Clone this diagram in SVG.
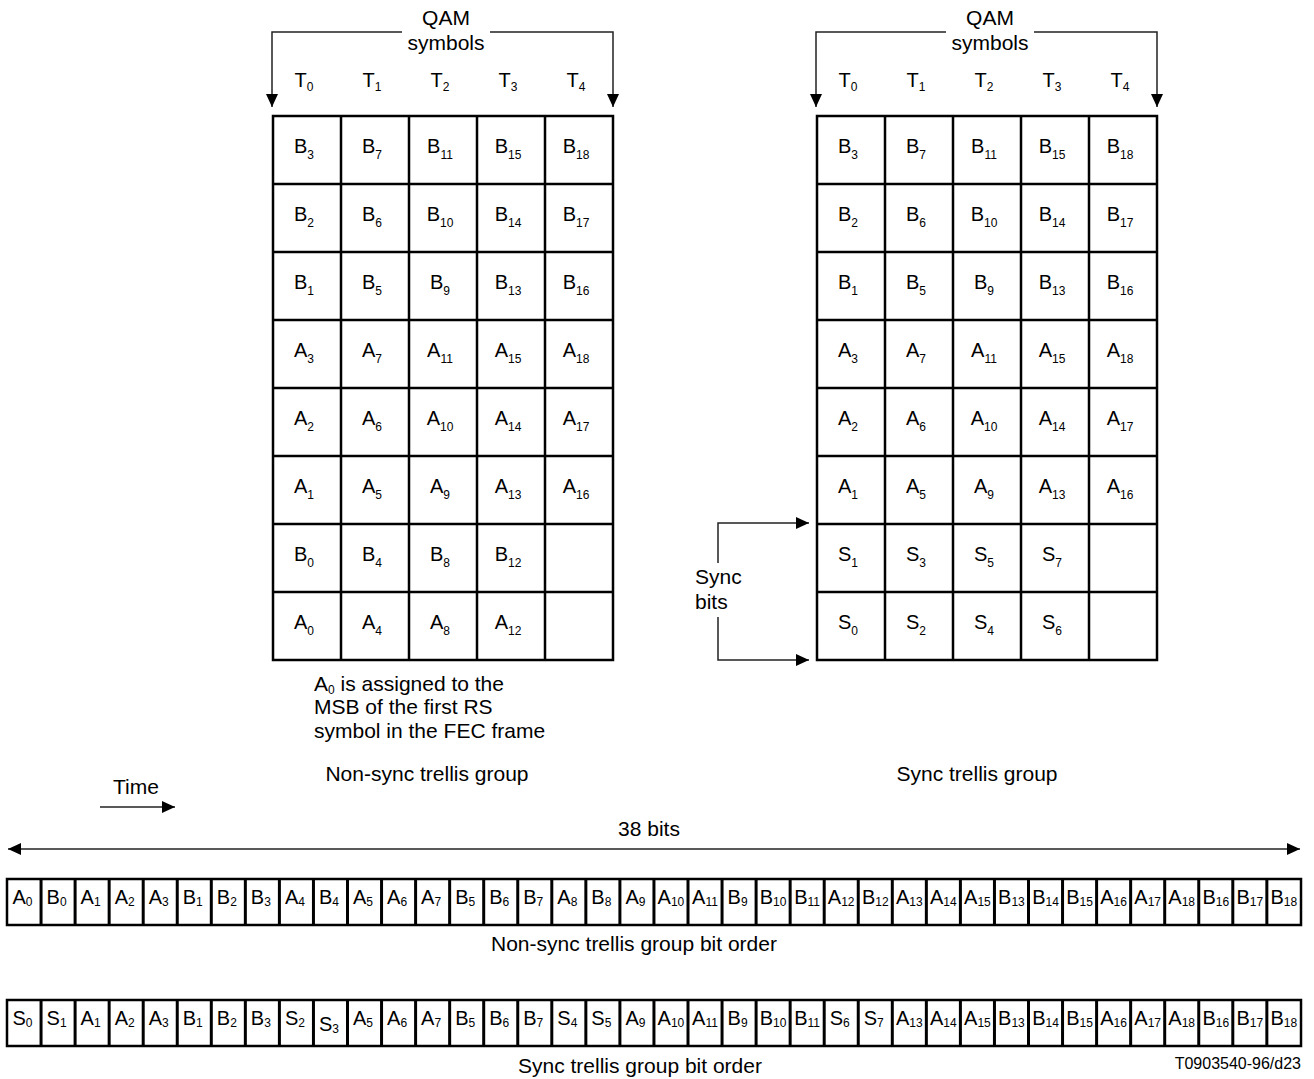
<svg xmlns="http://www.w3.org/2000/svg" width="1314" height="1079" viewBox="0 0 1314 1079">
<style>
text{font-family:"Liberation Sans",Arial,sans-serif;fill:#000}
.c{fill:#fff;stroke:#000;stroke-width:2.5}
.t{font-size:20px;text-anchor:middle}
.l{font-size:21px}
.m{text-anchor:middle}
.s{font-size:12px}
.bs{font-size:12px}
.ln{fill:none;stroke:#222;stroke-width:1.5}
</style>
<defs>
<marker id="ah" markerUnits="userSpaceOnUse" markerWidth="14" markerHeight="12" refX="13" refY="6" orient="auto-start-reverse" viewBox="0 0 14 12">
<path d="M0,0 L13,6 L0,12 z" fill="#000"/>
</marker>
</defs>

<g id="connectors">
<path class="ln" d="M402,32 H272 V107" marker-end="url(#ah)"/>
<path class="ln" d="M490,32 H613 V107" marker-end="url(#ah)"/>
<path class="ln" d="M946,32 H816 V107" marker-end="url(#ah)"/>
<path class="ln" d="M1034,32 H1157 V107" marker-end="url(#ah)"/>
<path class="ln" d="M718,563 V523 H809" marker-end="url(#ah)"/>
<path class="ln" d="M718,617 V660 H809" marker-end="url(#ah)"/>
<path class="ln" d="M100,807 H175" marker-end="url(#ah)"/>
<path class="ln" d="M8,849 H1300" marker-start="url(#ah)" marker-end="url(#ah)"/>
</g>

<g id="labels">
<text class="l m" x="446" y="25">QAM</text>
<text class="l m" x="446" y="50">symbols</text>
<text class="l m" x="990" y="25">QAM</text>
<text class="l m" x="990" y="50">symbols</text>
<text class="t" x="304" y="87">T<tspan class="s" dy="4">0</tspan></text>
<text class="t" x="372" y="87">T<tspan class="s" dy="4">1</tspan></text>
<text class="t" x="440" y="87">T<tspan class="s" dy="4">2</tspan></text>
<text class="t" x="508" y="87">T<tspan class="s" dy="4">3</tspan></text>
<text class="t" x="576" y="87">T<tspan class="s" dy="4">4</tspan></text>
<text class="t" x="848" y="87">T<tspan class="s" dy="4">0</tspan></text>
<text class="t" x="916" y="87">T<tspan class="s" dy="4">1</tspan></text>
<text class="t" x="984" y="87">T<tspan class="s" dy="4">2</tspan></text>
<text class="t" x="1052" y="87">T<tspan class="s" dy="4">3</tspan></text>
<text class="t" x="1120" y="87">T<tspan class="s" dy="4">4</tspan></text>
<text class="l" x="695" y="584">Sync</text>
<text class="l" x="695" y="609">bits</text>
<text class="l" x="314" y="691">A<tspan class="s" dy="3">0</tspan><tspan dy="-3"> is assigned to the</tspan></text>
<text class="l" x="314" y="714">MSB of the first RS</text>
<text class="l" x="314" y="738">symbol in the FEC frame</text>
<text class="l m" x="427" y="781">Non-sync trellis group</text>
<text class="l m" x="977" y="781">Sync trellis group</text>
<text class="l" x="113" y="794">Time</text>
<text class="l m" x="649" y="836">38 bits</text>
<text class="l m" x="634" y="951">Non-sync trellis group bit order</text>
<text class="l m" x="640" y="1073">Sync trellis group bit order</text>
<text x="1301" y="1069" style="font-size:16px;text-anchor:end">T0903540-96/d23</text>
</g>

<g id="nonsync-grid">
<rect class="c" x="273" y="116" width="340" height="544"/>
<path d="M341,116V660M409,116V660M477,116V660M545,116V660M273,184H613M273,252H613M273,320H613M273,388H613M273,456H613M273,524H613M273,592H613" stroke="#000" stroke-width="2.5"/>
<text class="t" x="304" y="153">B<tspan class="s" dy="6">3</tspan></text>
<text class="t" x="372" y="153">B<tspan class="s" dy="6">7</tspan></text>
<text class="t" x="440" y="153">B<tspan class="s" dy="6">11</tspan></text>
<text class="t" x="508" y="153">B<tspan class="s" dy="6">15</tspan></text>
<text class="t" x="576" y="153">B<tspan class="s" dy="6">18</tspan></text>
<text class="t" x="304" y="221">B<tspan class="s" dy="6">2</tspan></text>
<text class="t" x="372" y="221">B<tspan class="s" dy="6">6</tspan></text>
<text class="t" x="440" y="221">B<tspan class="s" dy="6">10</tspan></text>
<text class="t" x="508" y="221">B<tspan class="s" dy="6">14</tspan></text>
<text class="t" x="576" y="221">B<tspan class="s" dy="6">17</tspan></text>
<text class="t" x="304" y="289">B<tspan class="s" dy="6">1</tspan></text>
<text class="t" x="372" y="289">B<tspan class="s" dy="6">5</tspan></text>
<text class="t" x="440" y="289">B<tspan class="s" dy="6">9</tspan></text>
<text class="t" x="508" y="289">B<tspan class="s" dy="6">13</tspan></text>
<text class="t" x="576" y="289">B<tspan class="s" dy="6">16</tspan></text>
<text class="t" x="304" y="357">A<tspan class="s" dy="6">3</tspan></text>
<text class="t" x="372" y="357">A<tspan class="s" dy="6">7</tspan></text>
<text class="t" x="440" y="357">A<tspan class="s" dy="6">11</tspan></text>
<text class="t" x="508" y="357">A<tspan class="s" dy="6">15</tspan></text>
<text class="t" x="576" y="357">A<tspan class="s" dy="6">18</tspan></text>
<text class="t" x="304" y="425">A<tspan class="s" dy="6">2</tspan></text>
<text class="t" x="372" y="425">A<tspan class="s" dy="6">6</tspan></text>
<text class="t" x="440" y="425">A<tspan class="s" dy="6">10</tspan></text>
<text class="t" x="508" y="425">A<tspan class="s" dy="6">14</tspan></text>
<text class="t" x="576" y="425">A<tspan class="s" dy="6">17</tspan></text>
<text class="t" x="304" y="493">A<tspan class="s" dy="6">1</tspan></text>
<text class="t" x="372" y="493">A<tspan class="s" dy="6">5</tspan></text>
<text class="t" x="440" y="493">A<tspan class="s" dy="6">9</tspan></text>
<text class="t" x="508" y="493">A<tspan class="s" dy="6">13</tspan></text>
<text class="t" x="576" y="493">A<tspan class="s" dy="6">16</tspan></text>
<text class="t" x="304" y="561">B<tspan class="s" dy="6">0</tspan></text>
<text class="t" x="372" y="561">B<tspan class="s" dy="6">4</tspan></text>
<text class="t" x="440" y="561">B<tspan class="s" dy="6">8</tspan></text>
<text class="t" x="508" y="561">B<tspan class="s" dy="6">12</tspan></text>
<text class="t" x="304" y="629">A<tspan class="s" dy="6">0</tspan></text>
<text class="t" x="372" y="629">A<tspan class="s" dy="6">4</tspan></text>
<text class="t" x="440" y="629">A<tspan class="s" dy="6">8</tspan></text>
<text class="t" x="508" y="629">A<tspan class="s" dy="6">12</tspan></text>
</g>

<g id="sync-grid">
<rect class="c" x="817" y="116" width="340" height="544"/>
<path d="M885,116V660M953,116V660M1021,116V660M1089,116V660M817,184H1157M817,252H1157M817,320H1157M817,388H1157M817,456H1157M817,524H1157M817,592H1157" stroke="#000" stroke-width="2.5"/>
<text class="t" x="848" y="153">B<tspan class="s" dy="6">3</tspan></text>
<text class="t" x="916" y="153">B<tspan class="s" dy="6">7</tspan></text>
<text class="t" x="984" y="153">B<tspan class="s" dy="6">11</tspan></text>
<text class="t" x="1052" y="153">B<tspan class="s" dy="6">15</tspan></text>
<text class="t" x="1120" y="153">B<tspan class="s" dy="6">18</tspan></text>
<text class="t" x="848" y="221">B<tspan class="s" dy="6">2</tspan></text>
<text class="t" x="916" y="221">B<tspan class="s" dy="6">6</tspan></text>
<text class="t" x="984" y="221">B<tspan class="s" dy="6">10</tspan></text>
<text class="t" x="1052" y="221">B<tspan class="s" dy="6">14</tspan></text>
<text class="t" x="1120" y="221">B<tspan class="s" dy="6">17</tspan></text>
<text class="t" x="848" y="289">B<tspan class="s" dy="6">1</tspan></text>
<text class="t" x="916" y="289">B<tspan class="s" dy="6">5</tspan></text>
<text class="t" x="984" y="289">B<tspan class="s" dy="6">9</tspan></text>
<text class="t" x="1052" y="289">B<tspan class="s" dy="6">13</tspan></text>
<text class="t" x="1120" y="289">B<tspan class="s" dy="6">16</tspan></text>
<text class="t" x="848" y="357">A<tspan class="s" dy="6">3</tspan></text>
<text class="t" x="916" y="357">A<tspan class="s" dy="6">7</tspan></text>
<text class="t" x="984" y="357">A<tspan class="s" dy="6">11</tspan></text>
<text class="t" x="1052" y="357">A<tspan class="s" dy="6">15</tspan></text>
<text class="t" x="1120" y="357">A<tspan class="s" dy="6">18</tspan></text>
<text class="t" x="848" y="425">A<tspan class="s" dy="6">2</tspan></text>
<text class="t" x="916" y="425">A<tspan class="s" dy="6">6</tspan></text>
<text class="t" x="984" y="425">A<tspan class="s" dy="6">10</tspan></text>
<text class="t" x="1052" y="425">A<tspan class="s" dy="6">14</tspan></text>
<text class="t" x="1120" y="425">A<tspan class="s" dy="6">17</tspan></text>
<text class="t" x="848" y="493">A<tspan class="s" dy="6">1</tspan></text>
<text class="t" x="916" y="493">A<tspan class="s" dy="6">5</tspan></text>
<text class="t" x="984" y="493">A<tspan class="s" dy="6">9</tspan></text>
<text class="t" x="1052" y="493">A<tspan class="s" dy="6">13</tspan></text>
<text class="t" x="1120" y="493">A<tspan class="s" dy="6">16</tspan></text>
<text class="t" x="848" y="561">S<tspan class="s" dy="6">1</tspan></text>
<text class="t" x="916" y="561">S<tspan class="s" dy="6">3</tspan></text>
<text class="t" x="984" y="561">S<tspan class="s" dy="6">5</tspan></text>
<text class="t" x="1052" y="561">S<tspan class="s" dy="6">7</tspan></text>
<text class="t" x="848" y="629">S<tspan class="s" dy="6">0</tspan></text>
<text class="t" x="916" y="629">S<tspan class="s" dy="6">2</tspan></text>
<text class="t" x="984" y="629">S<tspan class="s" dy="6">4</tspan></text>
<text class="t" x="1052" y="629">S<tspan class="s" dy="6">6</tspan></text>
</g>

<g id="nonsync-bit-order">
<rect class="c" x="7" y="879" width="1294" height="46"/>
<path d="M41.05,879V925M75.1,879V925M109.15,879V925M143.2,879V925M177.25,879V925M211.3,879V925M245.35,879V925M279.4,879V925M313.45,879V925M347.5,879V925M381.55,879V925M415.6,879V925M449.65,879V925M483.7,879V925M517.75,879V925M551.8,879V925M585.85,879V925M619.9,879V925M653.95,879V925M688,879V925M722.05,879V925M756.1,879V925M790.15,879V925M824.2,879V925M858.25,879V925M892.3,879V925M926.35,879V925M960.4,879V925M994.45,879V925M1028.5,879V925M1062.55,879V925M1096.6,879V925M1130.65,879V925M1164.7,879V925M1198.75,879V925M1232.8,879V925M1266.85,879V925" stroke="#000" stroke-width="3"/>
<text class="t" x="22.5" y="904">A<tspan class="bs" dy="2">0</tspan></text>
<text class="t" x="56.55" y="904">B<tspan class="bs" dy="2">0</tspan></text>
<text class="t" x="90.6" y="904">A<tspan class="bs" dy="2">1</tspan></text>
<text class="t" x="124.65" y="904">A<tspan class="bs" dy="2">2</tspan></text>
<text class="t" x="158.7" y="904">A<tspan class="bs" dy="2">3</tspan></text>
<text class="t" x="192.75" y="904">B<tspan class="bs" dy="2">1</tspan></text>
<text class="t" x="226.8" y="904">B<tspan class="bs" dy="2">2</tspan></text>
<text class="t" x="260.85" y="904">B<tspan class="bs" dy="2">3</tspan></text>
<text class="t" x="294.9" y="904">A<tspan class="bs" dy="2">4</tspan></text>
<text class="t" x="328.95" y="904">B<tspan class="bs" dy="2">4</tspan></text>
<text class="t" x="363" y="904">A<tspan class="bs" dy="2">5</tspan></text>
<text class="t" x="397.05" y="904">A<tspan class="bs" dy="2">6</tspan></text>
<text class="t" x="431.1" y="904">A<tspan class="bs" dy="2">7</tspan></text>
<text class="t" x="465.15" y="904">B<tspan class="bs" dy="2">5</tspan></text>
<text class="t" x="499.2" y="904">B<tspan class="bs" dy="2">6</tspan></text>
<text class="t" x="533.25" y="904">B<tspan class="bs" dy="2">7</tspan></text>
<text class="t" x="567.3" y="904">A<tspan class="bs" dy="2">8</tspan></text>
<text class="t" x="601.35" y="904">B<tspan class="bs" dy="2">8</tspan></text>
<text class="t" x="635.4" y="904">A<tspan class="bs" dy="2">9</tspan></text>
<text class="t" x="670.95" y="904">A<tspan class="bs" dy="2">10</tspan></text>
<text class="t" x="705" y="904">A<tspan class="bs" dy="2">11</tspan></text>
<text class="t" x="737.55" y="904">B<tspan class="bs" dy="2">9</tspan></text>
<text class="t" x="773.1" y="904">B<tspan class="bs" dy="2">10</tspan></text>
<text class="t" x="807.15" y="904">B<tspan class="bs" dy="2">11</tspan></text>
<text class="t" x="841.2" y="904">A<tspan class="bs" dy="2">12</tspan></text>
<text class="t" x="875.25" y="904">B<tspan class="bs" dy="2">12</tspan></text>
<text class="t" x="909.3" y="904">A<tspan class="bs" dy="2">13</tspan></text>
<text class="t" x="943.35" y="904">A<tspan class="bs" dy="2">14</tspan></text>
<text class="t" x="977.4" y="904">A<tspan class="bs" dy="2">15</tspan></text>
<text class="t" x="1011.45" y="904">B<tspan class="bs" dy="2">13</tspan></text>
<text class="t" x="1045.5" y="904">B<tspan class="bs" dy="2">14</tspan></text>
<text class="t" x="1079.55" y="904">B<tspan class="bs" dy="2">15</tspan></text>
<text class="t" x="1113.6" y="904">A<tspan class="bs" dy="2">16</tspan></text>
<text class="t" x="1147.65" y="904">A<tspan class="bs" dy="2">17</tspan></text>
<text class="t" x="1181.7" y="904">A<tspan class="bs" dy="2">18</tspan></text>
<text class="t" x="1215.75" y="904">B<tspan class="bs" dy="2">16</tspan></text>
<text class="t" x="1249.8" y="904">B<tspan class="bs" dy="2">17</tspan></text>
<text class="t" x="1283.85" y="904">B<tspan class="bs" dy="2">18</tspan></text>
</g>

<g id="sync-bit-order">
<rect class="c" x="7" y="1000" width="1294" height="46"/>
<path d="M41.05,1000V1046M75.1,1000V1046M109.15,1000V1046M143.2,1000V1046M177.25,1000V1046M211.3,1000V1046M245.35,1000V1046M279.4,1000V1046M313.45,1000V1046M347.5,1000V1046M381.55,1000V1046M415.6,1000V1046M449.65,1000V1046M483.7,1000V1046M517.75,1000V1046M551.8,1000V1046M585.85,1000V1046M619.9,1000V1046M653.95,1000V1046M688,1000V1046M722.05,1000V1046M756.1,1000V1046M790.15,1000V1046M824.2,1000V1046M858.25,1000V1046M892.3,1000V1046M926.35,1000V1046M960.4,1000V1046M994.45,1000V1046M1028.5,1000V1046M1062.55,1000V1046M1096.6,1000V1046M1130.65,1000V1046M1164.7,1000V1046M1198.75,1000V1046M1232.8,1000V1046M1266.85,1000V1046" stroke="#000" stroke-width="3"/>
<text class="t" x="22.5" y="1025">S<tspan class="bs" dy="2">0</tspan></text>
<text class="t" x="56.55" y="1025">S<tspan class="bs" dy="2">1</tspan></text>
<text class="t" x="90.6" y="1025">A<tspan class="bs" dy="2">1</tspan></text>
<text class="t" x="124.65" y="1025">A<tspan class="bs" dy="2">2</tspan></text>
<text class="t" x="158.7" y="1025">A<tspan class="bs" dy="2">3</tspan></text>
<text class="t" x="192.75" y="1025">B<tspan class="bs" dy="2">1</tspan></text>
<text class="t" x="226.8" y="1025">B<tspan class="bs" dy="2">2</tspan></text>
<text class="t" x="260.85" y="1025">B<tspan class="bs" dy="2">3</tspan></text>
<text class="t" x="294.9" y="1025">S<tspan class="bs" dy="2">2</tspan></text>
<text class="t" x="328.95" y="1031">S<tspan class="bs" dy="2">3</tspan></text>
<text class="t" x="363" y="1025">A<tspan class="bs" dy="2">5</tspan></text>
<text class="t" x="397.05" y="1025">A<tspan class="bs" dy="2">6</tspan></text>
<text class="t" x="431.1" y="1025">A<tspan class="bs" dy="2">7</tspan></text>
<text class="t" x="465.15" y="1025">B<tspan class="bs" dy="2">5</tspan></text>
<text class="t" x="499.2" y="1025">B<tspan class="bs" dy="2">6</tspan></text>
<text class="t" x="533.25" y="1025">B<tspan class="bs" dy="2">7</tspan></text>
<text class="t" x="567.3" y="1025">S<tspan class="bs" dy="2">4</tspan></text>
<text class="t" x="601.35" y="1025">S<tspan class="bs" dy="2">5</tspan></text>
<text class="t" x="635.4" y="1025">A<tspan class="bs" dy="2">9</tspan></text>
<text class="t" x="670.95" y="1025">A<tspan class="bs" dy="2">10</tspan></text>
<text class="t" x="705" y="1025">A<tspan class="bs" dy="2">11</tspan></text>
<text class="t" x="737.55" y="1025">B<tspan class="bs" dy="2">9</tspan></text>
<text class="t" x="773.1" y="1025">B<tspan class="bs" dy="2">10</tspan></text>
<text class="t" x="807.15" y="1025">B<tspan class="bs" dy="2">11</tspan></text>
<text class="t" x="839.7" y="1025">S<tspan class="bs" dy="2">6</tspan></text>
<text class="t" x="873.75" y="1025">S<tspan class="bs" dy="2">7</tspan></text>
<text class="t" x="909.3" y="1025">A<tspan class="bs" dy="2">13</tspan></text>
<text class="t" x="943.35" y="1025">A<tspan class="bs" dy="2">14</tspan></text>
<text class="t" x="977.4" y="1025">A<tspan class="bs" dy="2">15</tspan></text>
<text class="t" x="1011.45" y="1025">B<tspan class="bs" dy="2">13</tspan></text>
<text class="t" x="1045.5" y="1025">B<tspan class="bs" dy="2">14</tspan></text>
<text class="t" x="1079.55" y="1025">B<tspan class="bs" dy="2">15</tspan></text>
<text class="t" x="1113.6" y="1025">A<tspan class="bs" dy="2">16</tspan></text>
<text class="t" x="1147.65" y="1025">A<tspan class="bs" dy="2">17</tspan></text>
<text class="t" x="1181.7" y="1025">A<tspan class="bs" dy="2">18</tspan></text>
<text class="t" x="1215.75" y="1025">B<tspan class="bs" dy="2">16</tspan></text>
<text class="t" x="1249.8" y="1025">B<tspan class="bs" dy="2">17</tspan></text>
<text class="t" x="1283.85" y="1025">B<tspan class="bs" dy="2">18</tspan></text>
</g>
</svg>
